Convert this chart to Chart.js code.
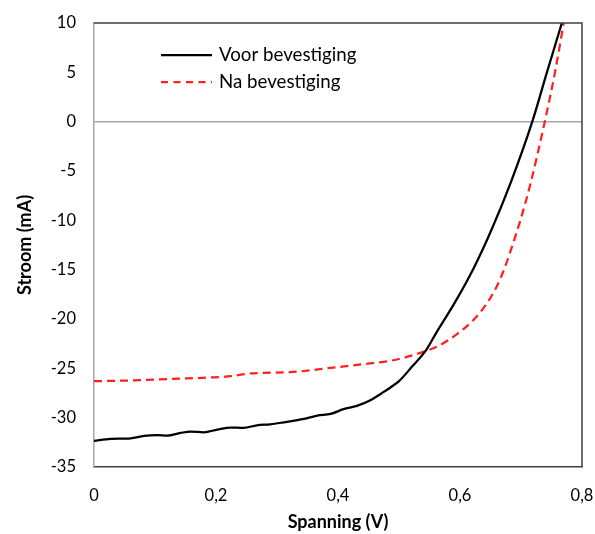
<!DOCTYPE html>
<html lang="nl">
<head>
    <meta charset="UTF-8">
    <title>Stroom-spanning curve</title>
    <script src="https://cdn.jsdelivr.net/npm/chart.js"></script>
    <style>
        body { margin: 0; background: #fff; }
        #wrap { width: 595px; height: 534px; }
    </style>
</head>
<body>
<div id="wrap"><canvas id="ivChart" width="595" height="534"></canvas></div>

<script>
    // spanning (V) vs stroom (mA)
    const voltVoor = [0, 0.027, 0.06, 0.082, 0.104, 0.12, 0.142, 0.158, 0.18, 0.202, 0.224, 0.245, 0.267, 0.289, 0.311, 0.344, 0.366, 0.388, 0.409, 0.431, 0.453, 0.475, 0.486, 0.5, 0.521, 0.545, 0.562, 0.589, 0.622, 0.652, 0.683, 0.7185, 0.742, 0.767];
    const stroomVoor = [-32.36, -32.16, -32.09, -31.85, -31.78, -31.82, -31.55, -31.41, -31.48, -31.21, -31.0, -31.04, -30.77, -30.67, -30.47, -30.13, -29.79, -29.62, -29.14, -28.81, -28.23, -27.39, -26.94, -26.3, -24.85, -23.1, -21.3, -18.6, -14.9, -10.9, -6.2, 0, 4.9, 10];

    const voltNa = [0, 0.076, 0.125, 0.191, 0.224, 0.256, 0.322, 0.388, 0.453, 0.486, 0.54, 0.567, 0.595, 0.622, 0.644, 0.66, 0.674, 0.687, 0.698, 0.715, 0.739, 0.756, 0.77];
    const stroomNa = [-26.3, -26.2, -26.07, -25.93, -25.8, -25.52, -25.39, -24.95, -24.5, -24.24, -23.33, -22.65, -21.53, -20.11, -18.42, -16.73, -14.7, -12.33, -10.2, -6.41, 0, 5.1, 10];

    const seriesNames = ['Voor bevestiging', 'Na bevestiging'];
    const xTicks = [0, 0.2, 0.4, 0.6, 0.8];
    const yTicks = [10, 5, 0, -5, -10, -15, -20, -25, -30, -35];

    function toPoints(xs, ys) {
        return xs.map((x, i) => ({ x: x, y: ys[i] }));
    }

    // legend inside the plot, top left, plus the box on top and right
    const extras = {
        id: 'extras',
        afterDraw(chart) {
            const ctx = chart.ctx;
            const a = chart.chartArea;
            ctx.save();
            ctx.strokeStyle = '#404040';
            ctx.lineWidth = 1.5;
            ctx.beginPath();
            ctx.moveTo(a.left, a.top);
            ctx.lineTo(a.right, a.top);
            ctx.lineTo(a.right, a.bottom);
            ctx.stroke();

            ctx.font = '18.7px Lato';
            ctx.textBaseline = 'middle';
            ctx.fillStyle = '#000';
            chart.data.datasets.forEach((ds, i) => {
                const y = 55 + i * 27;
                ctx.strokeStyle = ds.borderColor;
                ctx.lineWidth = ds.borderWidth;
                ctx.setLineDash(i === 1 ? [7, 5.5] : []);
                ctx.beginPath();
                ctx.moveTo(161, y);
                ctx.lineTo(212, y);
                ctx.stroke();
                ctx.setLineDash([]);
                ctx.fillText(ds.label, 219, y);
            });
            ctx.restore();
        }
    };

    const ctx = document.getElementById('ivChart').getContext('2d');
    new Chart(ctx, {
        type: 'scatter',
        data: {
            datasets: [
                {
                    label: seriesNames[0],
                    data: toPoints(voltVoor, stroomVoor),
                    showLine: true,
                    borderColor: '#000000',
                    borderWidth: 2.25,
                    pointRadius: 0,
                    cubicInterpolationMode: 'monotone'
                },
                {
                    label: seriesNames[1],
                    data: toPoints(voltNa, stroomNa),
                    showLine: true,
                    borderColor: '#FF2020',
                    borderWidth: 2.25,
                    borderDash: [8, 5],
                    pointRadius: 0,
                    cubicInterpolationMode: 'monotone'
                }
            ]
        },
        options: {
            responsive: false,
            animation: false,
            devicePixelRatio: 1,
            layout: { padding: { left: 0, right: 13, top: 23, bottom: 0 } },
            plugins: {
                legend: { display: false },
                tooltip: { enabled: false }
            },
            scales: {
                x: {
                    type: 'linear',
                    min: 0,
                    max: 0.8,
                    afterFit(scale) {
                        scale.height = 67;
                        scale.paddingLeft = 0;
                        scale.paddingRight = 0;
                    },
                    afterBuildTicks(scale) { scale.ticks = xTicks.map(v => ({ value: v })); },
                    grid: { display: false, drawTicks: false },
                    border: { color: '#404040', width: 1.5 },
                    ticks: {
                        padding: 19,
                        color: '#000',
                        font: { family: 'Lato', size: 16.5 },
                        callback: v => v === 0 ? '0' : v.toFixed(1).replace('.', ',')
                    },
                    title: {
                        display: true,
                        text: 'Spanning (V)',
                        color: '#000',
                        font: { family: 'Lato', size: 18, weight: 'bold' },
                        padding: { top: 0, bottom: 1 }
                    }
                },
                y: {
                    type: 'linear',
                    min: -35,
                    max: 10,
                    afterFit(scale) {
                        scale.width = 94;
                        scale.paddingTop = 0;
                        scale.paddingBottom = 0;
                    },
                    afterBuildTicks(scale) { scale.ticks = yTicks.map(v => ({ value: v })); },
                    grid: {
                        drawTicks: false,
                        lineWidth: 1.5,
                        color: c => (c.tick && c.tick.value === 0) ? '#A6A6A6' : 'rgba(0,0,0,0)'
                    },
                    border: { color: '#A6A6A6', width: 1.5 },
                    ticks: {
                        padding: 18,
                        color: '#000',
                        font: { family: 'Lato', size: 16.5 },
                        callback: v => String(v)
                    },
                    title: {
                        display: true,
                        text: 'Stroom (mA)',
                        color: '#000',
                        font: { family: 'Lato', size: 18, weight: 'bold' },
                        padding: { top: 14, bottom: 0 }
                    }
                }
            }
        },
        plugins: [extras]
    });
</script>
</body>
</html>
